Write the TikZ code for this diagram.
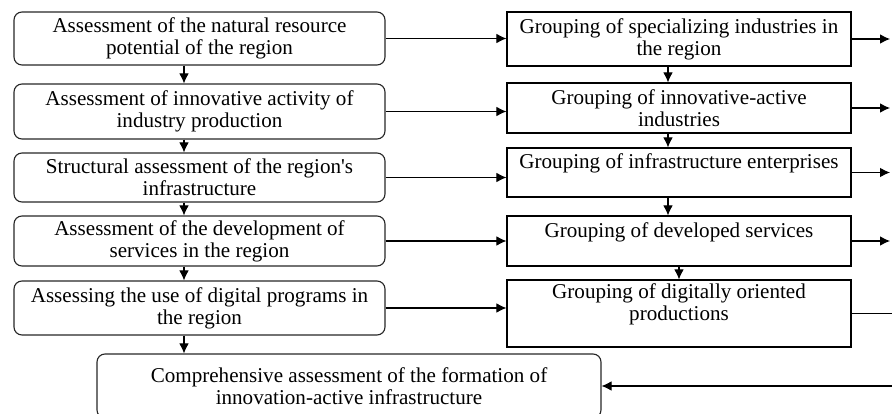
\documentclass[tikz,border=0pt]{standalone}
\usepackage{fontspec}
\setmainfont{Liberation Serif}
\usepackage{tikz}
\usetikzlibrary{arrows.meta, positioning, calc}
\tikzstyle{assess} = [rectangle, rounded corners=0.2cm, minimum width=9.275cm, inner ysep=1pt, align=center, draw=black!85, line width=0.8pt, font=\fontsize{15}{15.6}\selectfont]
\tikzstyle{group} = [rectangle, minimum width=8.6cm, inner ysep=1pt, align=center, draw=black, line width=0.8pt, font=\fontsize{15}{15.6}\selectfont]
\tikzstyle{arrow} = [line width=0.75pt,->,>={Latex[length=2.5mm,width=2.4mm]}]

\begin{document}
\begin{tikzpicture}
        \clip (0,0) rectangle (22.3,10.325);
        % assessment column
        \node[assess, minimum height=1.325cm] (nat) at (4.9875,9.3625) {Assessment of the natural resource\\potential of the region};
        \node[assess, minimum height=1.375cm] (inno) at (4.9875,7.5375) {Assessment of innovative activity of\\industry production};
        \node[assess, minimum height=1.225cm] (infra) at (4.9875,5.8875) {Structural assessment of the region\textquotesingle s\\infrastructure};
        \node[assess, minimum height=1.25cm] (serv) at (4.9875,4.3) {Assessment of the development of\\services in the region};
        \node[assess, minimum height=1.35cm] (digit) at (4.9875,2.625) {Assessing the use of digital programs in\\the region};
        \node[assess, minimum width=12.6cm, minimum height=1.6cm] (comp) at (8.725,0.675) {Comprehensive assessment of the formation of\\innovation-active infrastructure};
        % grouping column
        \node[group, minimum height=1.35cm] (spec) at (16.975,9.35) {Grouping of specializing industries in\\the region};
        \node[group, minimum height=1.25cm] (inact) at (16.975,7.625) {Grouping of innovative-active\\industries};
        \node[group, minimum height=1.225cm] (enter) at (16.975,6.0125) {Grouping of infrastructure enterprises\\\mbox{}};
        \node[group, minimum height=1.25cm] (devserv) at (16.975,4.3) {Grouping of developed services\\\mbox{}};
        \node[group, minimum height=1.675cm] (digor) at (16.975,2.4875) {Grouping of digitally oriented\\productions\\\mbox{}};
        \coordinate (lx) at (4.6,0);
        \coordinate (rx) at (16.7,0);
        \coordinate (edge) at (22.25,0);
        % vertical arrows
        \draw[arrow] (nat.south -| lx) -- (inno.north -| lx);
        \draw[arrow] (inno.south -| lx) -- (infra.north -| lx);
        \draw[arrow] (infra.south -| lx) -- (serv.north -| lx);
        \draw[arrow] (serv.south -| lx) -- (digit.north -| lx);
        \draw[arrow] (digit.south -| lx) -- (comp.north -| lx);
        \draw[arrow] (spec.south -| rx) -- (inact.north -| rx);
        \draw[arrow] (inact.south -| rx) -- (enter.north -| rx);
        \draw[arrow] (enter.south -| rx) -- (devserv.north -| rx);
        \draw[arrow] (devserv.south) -- (digor.north);
        % horizontal arrows
        \draw[arrow] (nat.east) -- (nat.east -| spec.west);
        \draw[arrow] (inno.east) -- (inno.east -| inact.west);
        \draw[arrow] (infra.east) -- (infra.east -| enter.west);
        \draw[arrow] (serv.east) -- (serv.east -| devserv.west);
        \draw[arrow] (digit.east) -- (digit.east -| digor.west);
        \draw[arrow] (spec.east) -- (spec.east -| edge);
        \draw[arrow] (inact.east) -- (inact.east -| edge);
        \draw[arrow] (enter.east) -- (enter.east -| edge);
        \draw[arrow] (devserv.east) -- (devserv.east -| edge);
        \draw[arrow] (digor.east) -- ++(1.5,0) |- (comp.east);
\end{tikzpicture}
\end{document}
